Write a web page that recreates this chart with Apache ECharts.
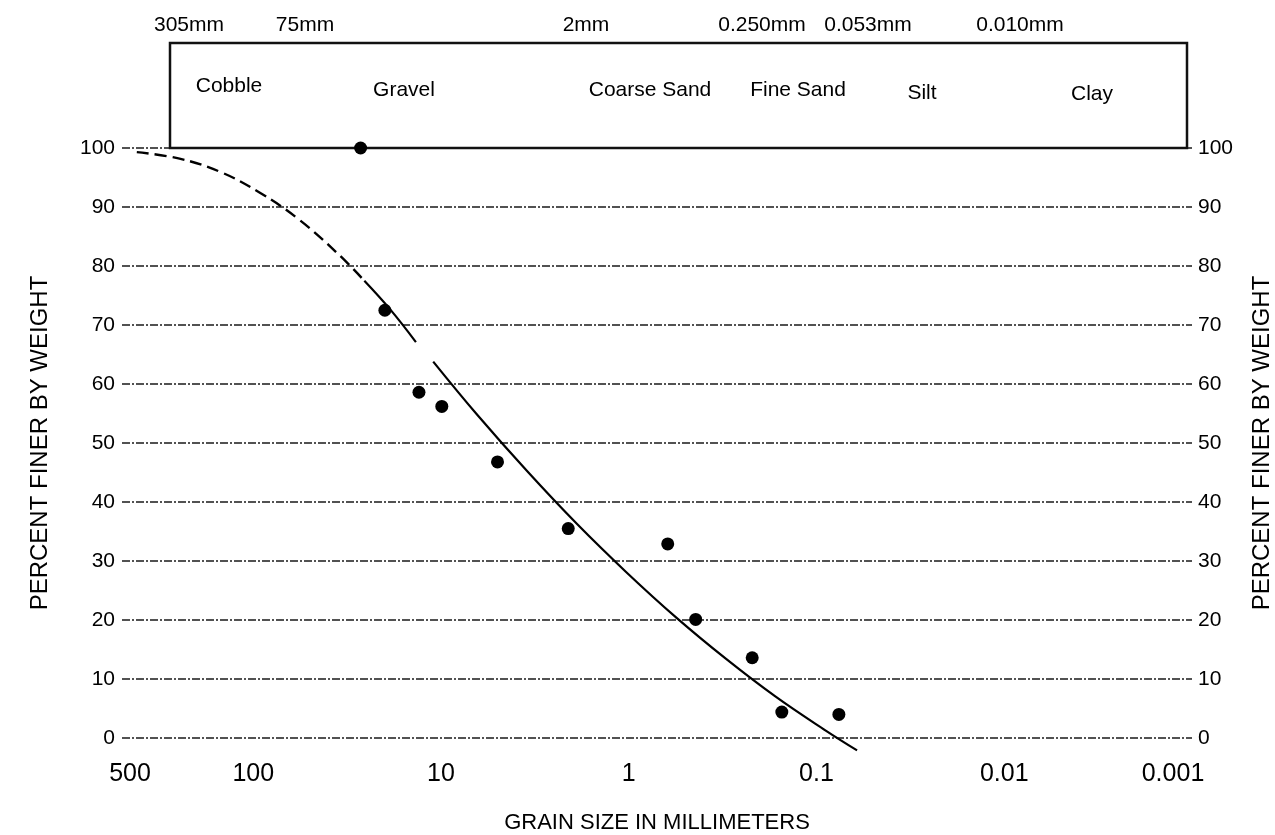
<!DOCTYPE html>
<html>
<head>
<meta charset="utf-8">
<script src="https://cdn.jsdelivr.net/npm/echarts@6/dist/echarts.min.js"></script>
<style>
html,body{margin:0;padding:0;background:#fff;}
#chart{width:1275px;height:835px;}
</style>
</head>
<body>
<div id="chart"></div>
<script>
// ---- data ----
const sizeLabels = ['305mm', '75mm', '2mm', '0.250mm', '0.053mm', '0.010mm'];
const classLabels = ['Cobble', 'Gravel', 'Coarse Sand', 'Fine Sand', 'Silt', 'Clay'];
const xTickLabels = ['500', '100', '10', '1', '0.1', '0.01', '0.001'];

const grainSize    = [26.8, 19.9, 13.1, 9.9, 5.0, 2.1, 0.62, 0.44, 0.22, 0.153, 0.076];
const percentFiner = [100, 72.5, 58.6, 56.2, 46.8, 35.5, 32.9, 20.1, 13.6, 4.4, 4.0];

const curveDashedSize = [417, 247, 151, 93.1, 57.2, 35.2, 25.6];
const curveDashedPct  = [99.3, 98.2, 96.0, 92.5, 87.9, 82.0, 77.5];
const curveSolidASize = [25.6, 18.6, 13.6];
const curveSolidAPct  = [77.5, 72.6, 67.1];
const curveSolidBSize = [11.0, 6.38, 3.47, 1.89, 1.03, 0.558, 0.303, 0.165, 0.0897, 0.0608];
const curveSolidBPct  = [63.8, 54.7, 45.2, 36.3, 28.1, 20.4, 13.4, 7.0, 1.3, -2.1];

// ---- layout (pixel positions, not data) ----
const sizeLabelX  = [189, 305, 586, 762, 868, 1020];
const classLabelX = [229, 404, 650, 798, 922, 1092];
const classLabelY = [86, 90, 90, 90, 93, 94];

const zip = (a, b) => a.map((v, i) => [v, b[i]]);
const FONT = '"Liberation Sans", Arial, sans-serif';

const chart = echarts.init(document.getElementById('chart'), null, {renderer: 'canvas'});

const graphics = [
  {
    type: 'rect', z: 5,
    shape: {x: 170, y: 43, width: 1017, height: 105},
    style: {fill: 'rgba(0,0,0,0)', stroke: '#111', lineWidth: 2.5}
  }
];
sizeLabels.forEach((t, i) => graphics.push({
  type: 'text', z: 6, x: sizeLabelX[i], y: 25,
  style: {text: t, font: '21px ' + FONT, fill: '#000', align: 'center', verticalAlign: 'middle'}
}));
classLabels.forEach((t, i) => graphics.push({
  type: 'text', z: 6, x: classLabelX[i], y: classLabelY[i],
  style: {text: t, font: '21px ' + FONT, fill: '#000', align: 'center', verticalAlign: 'middle'}
}));

const gridLine = {color: '#1a1a1a', width: 1.5, type: [8, 2, 2, 2]};

chart.setOption({
  animation: false,
  backgroundColor: '#fff',
  textStyle: {fontFamily: FONT, color: '#000'},
  grid: {left: 122, right: 83, top: 148, bottom: 97, containLabel: false, outerBoundsMode: 'none'},
  graphic: graphics,
  xAxis: {
    type: 'log', logBase: 10, min: 0.001, max: 500, inverse: true,
    axisLine: {show: false}, axisTick: {show: false}, splitLine: {show: false},
    axisLabel: {
      fontSize: 25, color: '#000', margin: 24, fontFamily: FONT,
      formatter: v => {
        const idx = Math.abs(v - 500) < 1 ? 0 : Math.round(2 - Math.log10(v)) + 1;
        const t = xTickLabels[idx];
        if (t === undefined) return '';
        if (idx === 0) return '{first|' + t + '}';
        if (idx === xTickLabels.length - 1) return '{last|' + t + '}';
        return t;
      },
      rich: {
        first: {fontSize: 25, color: '#000', fontFamily: FONT, padding: [0, 0, 0, 16]},
        last: {fontSize: 25, color: '#000', fontFamily: FONT, padding: [0, 38, 0, 0]}
      }
    },
    name: 'GRAIN SIZE IN MILLIMETERS', nameLocation: 'middle', nameGap: 74,
    nameTextStyle: {fontSize: 22, color: '#000', fontFamily: FONT}
  },
  yAxis: [
    {
      type: 'value', min: 0, max: 100, interval: 10, position: 'left',
      axisLine: {show: false}, axisTick: {show: false},
      splitLine: {show: true, lineStyle: gridLine},
      axisLabel: {fontSize: 21, color: '#000', margin: 7, fontFamily: FONT},
      name: 'PERCENT FINER BY WEIGHT', nameLocation: 'middle', nameGap: 70, nameRotate: 90,
      nameTextStyle: {fontSize: 24, color: '#000', fontFamily: FONT}
    },
    {
      type: 'value', min: 0, max: 100, interval: 10, position: 'right',
      axisLine: {show: false}, axisTick: {show: false}, splitLine: {show: false},
      axisLabel: {fontSize: 21, color: '#000', margin: 6, fontFamily: FONT},
      name: 'PERCENT FINER BY WEIGHT', nameLocation: 'middle', nameGap: 58, nameRotate: 90,
      nameTextStyle: {fontSize: 24, color: '#000', fontFamily: FONT}
    }
  ],
  series: [
    {
      type: 'line', data: zip(curveDashedSize, curveDashedPct), smooth: 0.4,
      showSymbol: false, symbol: 'none', clip: false,
      lineStyle: {color: '#000', width: 2.4, type: [12, 6]}, z: 3
    },
    {
      type: 'line', data: zip(curveSolidASize, curveSolidAPct), smooth: 0.4,
      showSymbol: false, symbol: 'none', clip: false,
      lineStyle: {color: '#000', width: 2.2}, z: 3
    },
    {
      type: 'line', data: zip(curveSolidBSize, curveSolidBPct), smooth: 0.4,
      showSymbol: false, symbol: 'none', clip: false,
      lineStyle: {color: '#000', width: 2.2}, z: 3
    },
    {
      type: 'scatter', data: zip(grainSize, percentFiner), symbol: 'circle', symbolSize: 13,
      itemStyle: {color: '#000', opacity: 1}, clip: false, z: 10
    }
  ]
});
</script>
</body>
</html>
